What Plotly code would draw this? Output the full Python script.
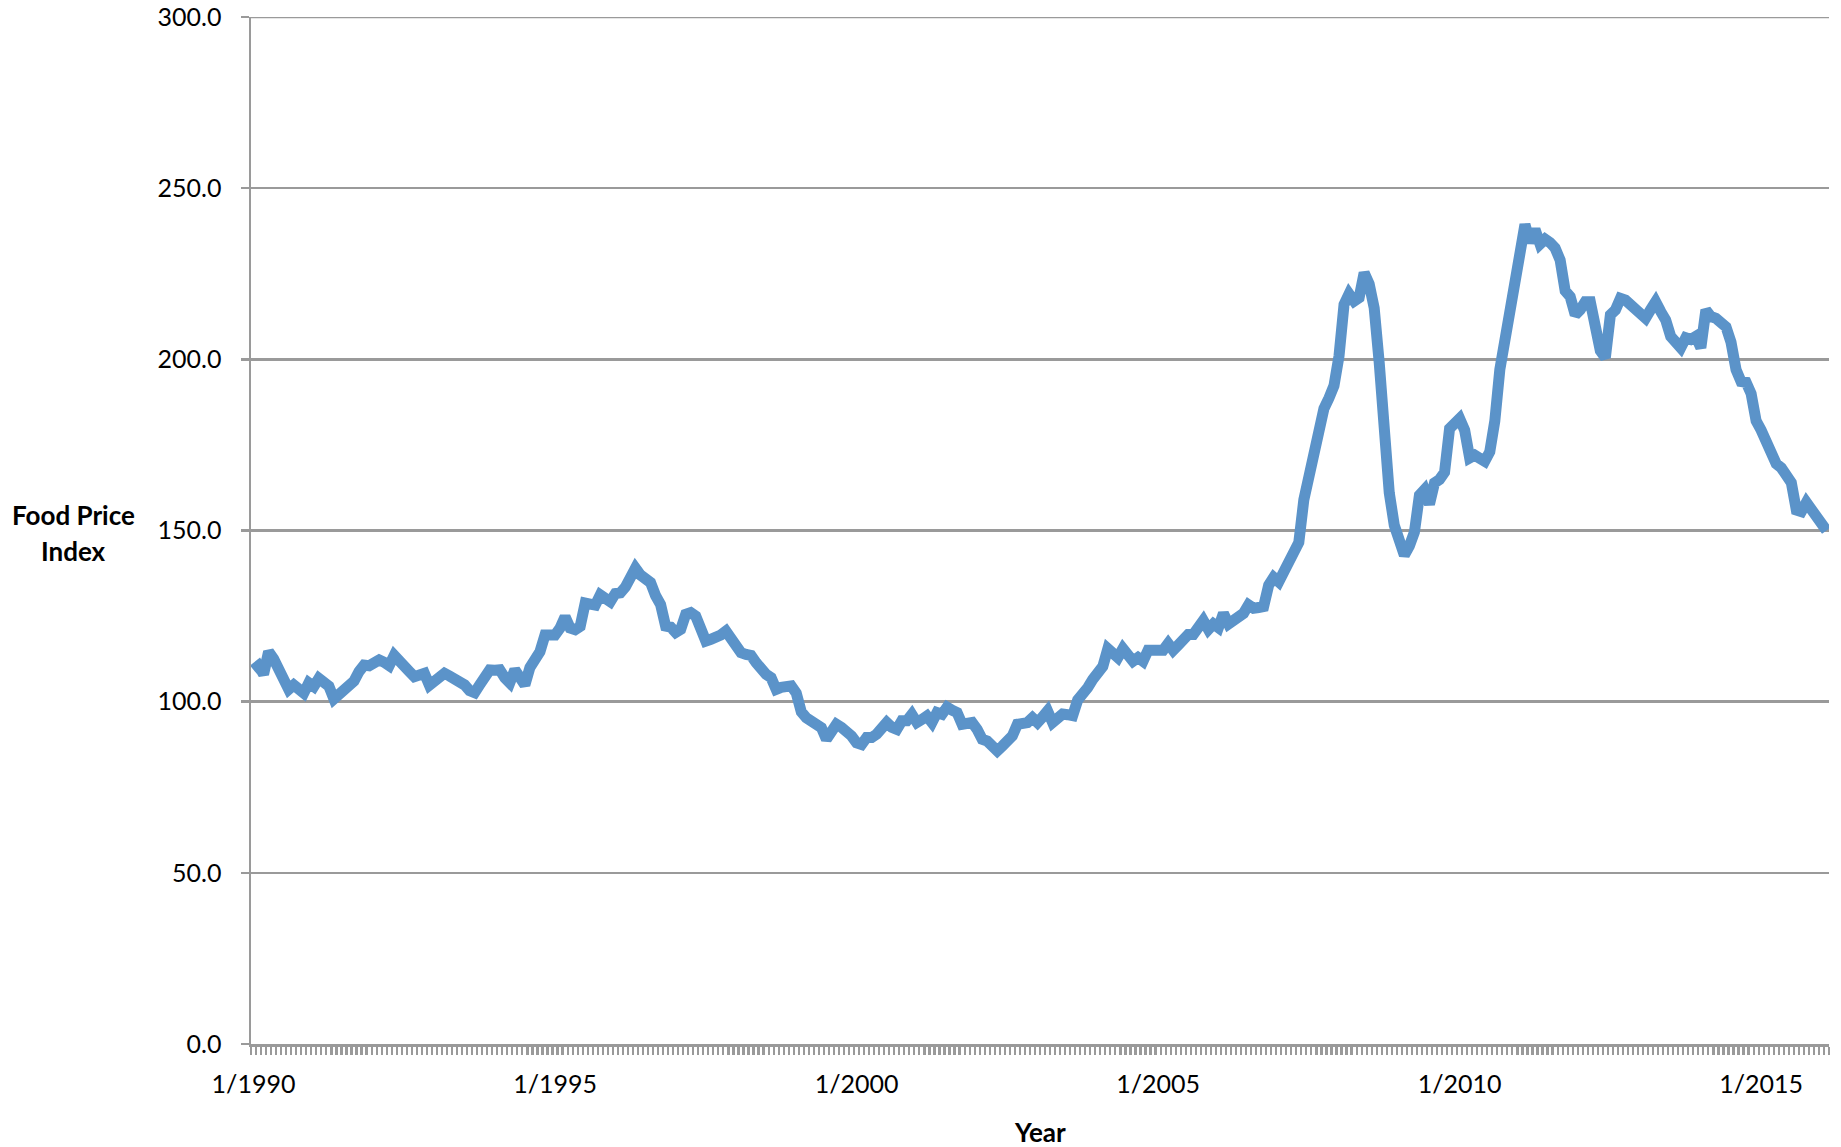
import plotly.graph_objects as go

# Monthly food price index, Jan 1990 .. Feb 2016
month_labels = [f"{(i % 12) + 1}/{1990 + i // 12}" for i in range(314)]

values = [
    # 1990
    109.3, 110.5, 108.0, 114.6, 112.5, 109.5, 106.0, 103.6, 104.9, 103.8, 102.5, 105.5,
    # 1991
    104.4, 106.8, 105.8, 104.5, 100.8, 102.0, 103.2, 103.9, 106.0, 108.8, 110.7, 110.5,
    # 1992
    111.0, 112.2, 111.5, 110.5, 113.5, 111.5, 109.7, 108.8, 107.3, 107.8, 108.3, 104.8,
    # 1993
    106.0, 107.0, 108.3, 107.5, 106.8, 105.8, 104.9, 103.2, 102.6, 104.9, 107.0, 109.3,
    # 1994
    109.2, 109.3, 107.0, 105.5, 109.3, 107.5, 104.9, 110.0, 112.7, 114.6, 119.5, 119.5,
    # 1995
    119.5, 121.5, 124.8, 121.5, 121.0, 122.0, 128.8, 128.5, 128.2, 131.2, 130.0, 129.2,
    # 1996
    131.6, 131.8, 133.5, 136.5, 139.0, 137.0, 136.0, 134.8, 131.0, 128.4, 122.1, 121.8,
    # 1997
    120.2, 121.1, 125.5, 126.0, 125.0, 121.0, 117.7, 118.2, 118.7, 119.5, 120.6, 118.0,
    # 1998
    115.8, 114.3, 113.8, 113.5, 111.4, 109.0, 108.0, 107.0, 103.6, 104.2, 104.6, 104.6,
    # 1999
    102.5, 97.0, 95.3, 94.3, 93.2, 92.4, 89.0, 91.5, 93.4, 92.5, 91.4, 90.0,
    # 2000
    88.0, 87.5, 89.5, 89.5, 90.5, 92.4, 93.9, 92.5, 91.9, 94.4, 94.4, 96.3,
    # 2001
    93.9, 94.8, 95.8, 93.9, 96.8, 96.3, 98.4, 97.5, 96.8, 93.4, 93.6, 93.9,
    # 2002
    91.9, 89.0, 88.5, 87.0, 85.6, 87.0, 88.5, 90.0, 93.4, 93.5, 93.9, 95.3,
    # 2003
    93.9, 95.5, 97.3, 93.9, 95.5, 96.4, 96.2, 95.9, 100.5, 102.0, 104.1, 106.5,
    # 2004
    108.3, 110.3, 115.5, 113.8, 112.9, 115.5, 113.5, 111.8, 112.9, 111.8, 115.0, 115.0,
    # 2005
    115.0, 115.0, 117.0, 115.0, 116.5, 118.5, 119.6, 119.6, 121.5, 123.7, 121.1, 122.7,
    # 2006
    121.6, 125.8, 122.7, 124.0, 125.3, 125.8, 128.3, 127.3, 127.5, 127.8, 134.0, 136.3,
    # 2007
    135.0, 138.1, 139.7, 142.5, 146.5, 159.0, 165.5, 171.6, 180.4, 185.6, 188.7, 192.3,
    # 2008
    201.0, 216.0, 219.1, 217.0, 218.0, 225.3, 222.0, 215.0, 199.0, 174.0, 161.0, 151.5,
    # 2009
    146.4, 142.8, 145.5, 149.5, 160.3, 161.9, 157.7, 163.9, 164.9, 167.0, 179.8, 181.5,
    # 2010
    182.7, 179.3, 171.2, 172.0, 171.5, 170.2, 173.0, 182.0, 197.0, 206.0, 213.0, 220.7,
    # 2011
    233.2, 239.4, 234.1, 238.0, 233.7, 235.1, 234.1, 232.5, 229.0, 220.0, 218.3, 213.0,
    # 2012
    214.5, 216.8, 216.8, 207.0, 202.5, 200.5, 213.0, 214.4, 217.8, 217.3, 216.0, 214.4,
    # 2013
    213.0, 212.0, 214.5, 216.8, 214.0, 211.5, 206.7, 204.5, 203.4, 206.3, 205.8, 206.7,
    # 2014
    203.4, 214.4, 212.5, 212.0, 211.1, 209.5, 205.0, 197.0, 193.5, 193.3, 190.0, 182.0,
    # 2015
    179.3, 176.0, 172.0, 169.5, 168.3, 165.4, 164.0, 156.0, 155.5, 158.2, 156.0, 153.5,
    # 2016
    152.0, 150.0,
]

tick_labels = ["1/1990", "1/1995", "1/2000", "1/2005", "1/2010", "1/2015"]
y_ticks = [0, 50, 100, 150, 200, 250, 300]

x_idx = list(range(len(values)))
tick_positions = [month_labels.index(t) for t in tick_labels]

AXIS_GRAY = "#9a9a9a"
FONT = "Lato"

W, H = 1841, 1147
ML, MR, MT, MB = 251, 12, 17, 103

fig = go.Figure()
fig.add_trace(go.Scatter(
    x=x_idx, y=values, mode="lines",
    line=dict(color="#5b93c9", width=11),
    hoverinfo="skip", showlegend=False,
))

fig.update_layout(
    width=W, height=H,
    margin=dict(l=ML, r=MR, t=MT, b=MB, autoexpand=False),
    paper_bgcolor="white", plot_bgcolor="white",
    font=dict(family=FONT, size=25, color="#000000"),
    showlegend=False,
)

fig.update_xaxes(
    range=[-0.5, len(values) - 0.5],
    tickmode="array", tickvals=tick_positions, ticktext=tick_labels,
    ticks="", ticklabelstandoff=16, automargin=False,
    ticklabeloverflow="allow",
    showline=True, linecolor=AXIS_GRAY, linewidth=2.5,
    showgrid=False, zeroline=False,
    minor=dict(ticks="outside", ticklen=8, tickwidth=2.2, tickcolor=AXIS_GRAY,
               tick0=-0.5, dtick=1, showgrid=False),
    tickfont=dict(family=FONT, size=25, color="#000000"),
)

fig.update_yaxes(
    range=[0, 300], automargin=False,
    tickmode="array", tickvals=y_ticks, tickformat=".1f",
    ticks="outside", ticklen=8, tickwidth=2.5, tickcolor=AXIS_GRAY,
    ticklabelstandoff=14, ticklabeloverflow="allow",
    showline=True, linecolor=AXIS_GRAY, linewidth=2.5,
    showgrid=True, gridcolor=AXIS_GRAY, gridwidth=2.5,
    zeroline=False,
    tickfont=dict(family=FONT, size=25, color="#000000"),
)

# gridline at the top of the range (plotly omits grid lines on the range edge)
fig.add_shape(type="line", xref="paper", x0=0, x1=1, yref="y", y0=y_ticks[-1], y1=y_ticks[-1],
              line=dict(color=AXIS_GRAY, width=2.5), layer="below")

pw = W - ML - MR
ph = H - MT - MB

def px_to_paper_x(px):
    return (px - ML) / pw

def px_to_paper_y(py):
    return (H - MB - py) / ph

title_font = dict(family=FONT, size=26, color="#000000")
fig.add_annotation(text="<b>Food Price</b>", x=px_to_paper_x(73), y=px_to_paper_y(515),
                   xref="paper", yref="paper", showarrow=False,
                   xanchor="center", yanchor="middle", font=title_font)
fig.add_annotation(text="<b>Index</b>", x=px_to_paper_x(73), y=px_to_paper_y(551),
                   xref="paper", yref="paper", showarrow=False,
                   xanchor="center", yanchor="middle", font=title_font)
fig.add_annotation(text="<b>Year</b>", x=0.5, y=px_to_paper_y(1132),
                   xref="paper", yref="paper", showarrow=False,
                   xanchor="center", yanchor="middle", font=title_font)

# remove the default page margin so the figure fills the window exactly
fig.write_html(
    "out.html",
    config={"displayModeBar": False, "staticPlot": True},
    post_script="document.body.style.margin='0';document.body.style.overflow='hidden';",
)
